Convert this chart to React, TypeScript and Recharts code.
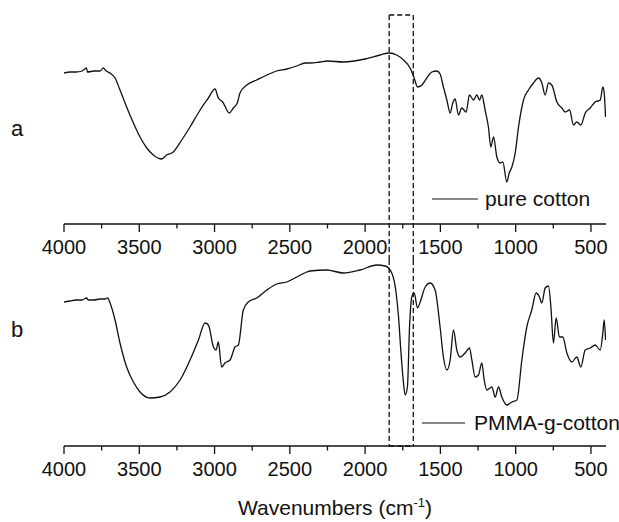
import { Label, Legend, Line, LineChart, ReferenceLine, XAxis, YAxis } from 'recharts';

const FONT = '"Liberation Sans", Arial, sans-serif';
const INK = '#111';

// spectrum a: pure cotton (wavenumber, transmittance a.u.)
const wavenumbersA = [
  4000, 3960, 3920, 3880, 3850, 3845, 3800, 3760, 3739, 3720, 3694, 3661, 3628, 3584, 3539, 3495, 3450, 3407,
  3351, 3318, 3274, 3218, 3163, 3096, 3041, 2997, 2975, 2946, 2902, 2875, 2849, 2831, 2786, 2720, 2653, 2587,
  2520, 2454, 2399, 2365, 2300, 2250, 2144, 2000, 1900, 1840, 1790, 1745, 1701, 1674, 1652, 1623, 1590, 1557,
  1524, 1502, 1480, 1457, 1435, 1418, 1402, 1380, 1358, 1329, 1307, 1280, 1258, 1240, 1225, 1203, 1181, 1165,
  1147, 1125, 1103, 1085, 1059, 1043, 1025, 1003, 981, 948, 915, 882, 848, 826, 804, 782, 760, 726, 693, 671,
  642, 616, 594, 567, 538, 505, 472, 438, 421, 412, 403,
];
const pureCotton = [
  151, 152, 152, 153, 156, 152, 153, 153, 156, 153, 151, 146, 134, 117, 101, 87, 76, 69,
  65, 69, 72, 84, 97, 114, 126, 135, 126, 122, 111, 116, 121, 131, 139, 144, 149, 153,
  155, 158, 161, 161, 162, 163, 162, 165, 169, 171, 169, 164, 156, 146, 137, 139, 146, 152,
  153, 150, 137, 124, 111, 121, 125, 109, 116, 112, 129, 124, 129, 124, 129, 114, 97, 77,
  87, 67, 61, 62, 42, 51, 57, 71, 97, 124, 134, 141, 146, 141, 129, 141, 139, 122, 116, 112,
  114, 99, 102, 99, 111, 116, 122, 124, 137, 131, 107,
];

// spectrum b: PMMA-g-cotton
const wavenumbersB = [
  4000, 3960, 3920, 3880, 3849, 3840, 3800, 3760, 3727, 3710, 3694, 3661, 3628, 3584, 3539, 3495, 3428, 3362,
  3296, 3229, 3163, 3107, 3063, 3041, 3007, 2990, 2975, 2953, 2931, 2897, 2864, 2842, 2809, 2776, 2720, 2653,
  2587, 2520, 2454, 2388, 2365, 2255, 2144, 2033, 1922, 1867, 1823, 1794, 1778, 1763, 1745, 1734, 1719, 1705,
  1690, 1674, 1652, 1634, 1601, 1568, 1535, 1502, 1480, 1457, 1435, 1413, 1391, 1369, 1336, 1307, 1291, 1269,
  1247, 1225, 1209, 1192, 1158, 1136, 1114, 1092, 1059, 1025, 992, 959, 926, 893, 864, 842, 826, 804, 782, 766,
  749, 731, 709, 687, 660, 627, 594, 567, 538, 505, 472, 438, 421, 412, 403,
];
const pmmaCotton = [
  144, 145, 146, 146, 148, 146, 146, 147, 147, 148, 143, 126, 103, 79, 64, 54, 48, 49,
  54, 66, 86, 106, 123, 121, 99, 96, 104, 79, 83, 86, 99, 101, 136, 144, 148, 156,
  162, 164, 169, 174, 175, 176, 173, 176, 181, 180, 173, 153, 129, 96, 63, 51, 59, 119,
  149, 153, 138, 144, 159, 163, 156, 119, 89, 76, 86, 116, 96, 89, 93, 98, 86, 69,
  71, 83, 66, 56, 59, 49, 59, 49, 41, 44, 46, 86, 119, 136, 153, 149, 143, 158, 160, 139,
  103, 128, 109, 109, 93, 84, 89, 79, 96, 98, 101, 96, 113, 126, 106,
];

const majorTicks = [4000, 3500, 3000, 2500, 2000, 1500, 1000, 500];
const minorTicks = [3750, 3250, 2750, 2250, 1750, 1250, 750];
const allTicks = [...majorTicks, ...minorTicks].sort((a, b) => b - a);
const boxEdges = [1840, 1680];

const dataA = wavenumbersA.map((wn, i) => ({ wn, t: pureCotton[i] }));
const dataB = wavenumbersB.map((wn, i) => ({ wn, t: pmmaCotton[i] }));

const AxisTick = (props: any) => {
  const { x, y, payload } = props;
  const major = majorTicks.includes(payload.value);
  return (
    <g>
      <line x1={x} x2={x} y1={y} y2={y + (major ? 8 : 4.5)} stroke={INK} strokeWidth={1.3} />
      {major && (
        <text x={x} y={y + 29.5} textAnchor="middle" fontSize={20} fill={INK} fontFamily={FONT}>
          {payload.value}
        </text>
      )}
    </g>
  );
};

const legendContent = (lineLen: number, gap: number, size: number) => (props: any) => {
  const item = props.payload?.[0];
  if (!item) return null;
  return (
    <svg width={200} height={30} style={{ display: 'block' }}>
      <line x1={0} x2={lineLen} y1={13} y2={13} stroke={INK} strokeWidth={1} />
      <text x={lineLen + gap} y={20} fontSize={size} fill={INK} fontFamily={FONT}>
        {item.value}
      </text>
    </svg>
  );
};

const BoxLines = ({ top, bottom, closeAt }: { top: number; bottom: number; closeAt: number }) => (
  <>
    {boxEdges.map((x) => (
      <ReferenceLine
        key={x}
        segment={[{ x, y: top }, { x, y: bottom }]}
        ifOverflow="visible"
        stroke={INK}
        strokeWidth={1.3}
        strokeDasharray="5 3"
      />
    ))}
    <ReferenceLine
      segment={[{ x: boxEdges[0], y: closeAt }, { x: boxEdges[1], y: closeAt }]}
      ifOverflow="visible"
      stroke={INK}
      strokeWidth={1.3}
      strokeDasharray="5 3"
    />
  </>
);

const xAxisProps = {
  dataKey: 'wn',
  type: 'number' as const,
  domain: [400, 4000],
  reversed: true,
  allowDataOverflow: true,
  ticks: allTicks,
  interval: 0 as const,
  tick: <AxisTick />,
  tickLine: false,
  tickSize: 0,
  tickMargin: 0,
  axisLine: { stroke: INK, strokeWidth: 1.3 },
};

const sideLabel = (text: string, dy: number) => (p: any) => (
  <text x={11} y={p.viewBox.y + dy} fontSize={22} fill={INK} fontFamily={FONT}>
    {text}
  </text>
);

export default function App() {
  return (
    <div style={{ position: 'absolute', left: 0, top: 0, width: 619, height: 522, background: '#fff' }}>
      <LineChart width={619} height={260} data={dataA} margin={{ top: 15, right: 13, bottom: 0, left: 0 }}>
        <XAxis {...xAxisProps} height={36} />
        <YAxis width={64} domain={[0, 209]} allowDataOverflow tick={false} tickLine={false} axisLine={false}>
          <Label content={sideLabel('a', 121)} />
        </YAxis>
        <BoxLines top={209} bottom={-36} closeAt={209} />
        <Line type="monotone" dataKey="t" name="pure cotton" dot={false} stroke={INK} strokeWidth={1.3} isAnimationActive={false} />
        <Legend
          layout="horizontal"
          verticalAlign="middle"
          align="center"
          content={legendContent(46, 7, 21)}
          wrapperStyle={{ left: 432, top: 186, width: 'auto', height: 'auto' }}
        />
      </LineChart>
      <div style={{ position: 'absolute', left: 0, top: 260 }}>
        <LineChart width={619} height={262} data={dataB} margin={{ top: 0, right: 13, bottom: 0, left: 0 }}>
          <XAxis {...xAxisProps} height={76}>
            <Label
              content={(p: any) => (
                <text
                  x={p.viewBox.x + p.viewBox.width / 2}
                  y={p.viewBox.y + 68.5}
                  textAnchor="middle"
                  fontSize={21}
                  fill={INK}
                  fontFamily={FONT}
                >
                  Wavenumbers (cm
                  <tspan fontSize={13} dy={-8}>-1</tspan>
                  <tspan dy={8}>)</tspan>
                </text>
              )}
            />
          </XAxis>
          <YAxis width={64} domain={[0, 186]} allowDataOverflow tick={false} tickLine={false} axisLine={false}>
            <Label content={sideLabel('b', 77)} />
          </YAxis>
          <BoxLines top={186} bottom={0} closeAt={0} />
          <Line type="monotone" dataKey="t" name="PMMA-g-cotton" dot={false} stroke={INK} strokeWidth={1.3} isAnimationActive={false} />
          <Legend
            layout="horizontal"
            verticalAlign="middle"
            align="center"
            content={legendContent(43, 9, 21)}
            wrapperStyle={{ left: 422, top: 150, width: 'auto', height: 'auto' }}
          />
        </LineChart>
      </div>
    </div>
  );
}
